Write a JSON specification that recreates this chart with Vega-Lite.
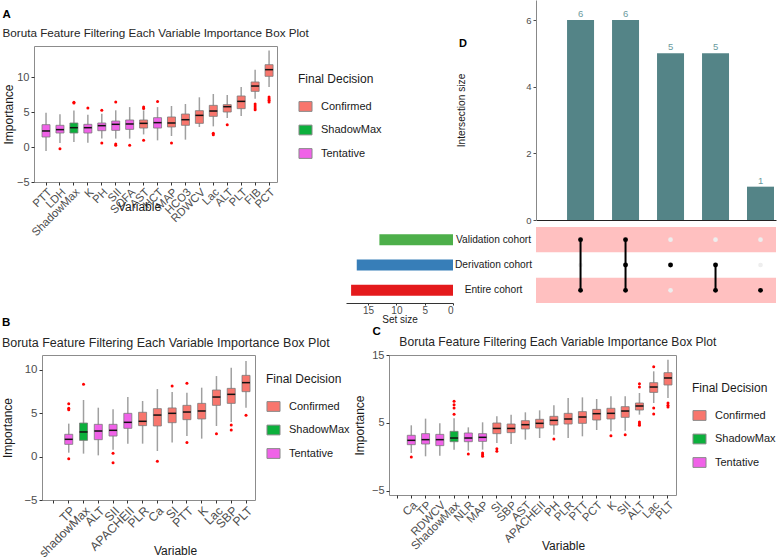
{
 "$schema": "https://vega.github.io/schema/vega-lite/v6.json",
 "padding": {"left": 1, "top": 0, "right": 0, "bottom": 0},
 "config": {
  "font": "Liberation Sans",
  "view": {"stroke": "#8c8c8c", "strokeWidth": 1},
  "axis": {"grid": false, "domain": false, "tickColor": "#333333", "tickSize": 3, "labelColor": "#4d4d4d", "titleColor": "#1a1a1a", "titleFontWeight": "normal", "titleFontSize": 12, "labelFontSize": 11, "labelPadding": 2},
  "legend": {"titleFontSize": 12, "titleFontWeight": "normal", "titleColor": "#1a1a1a", "labelFontSize": 11, "labelColor": "#1a1a1a", "symbolType": "M-1,-0.75H1V0.75H-1Z", "symbolSize": 170, "symbolStrokeColor": "#8a8a8a", "symbolStrokeWidth": 1, "rowPadding": 8.5, "titlePadding": 13, "labelOffset": 8},
  "title": {"anchor": "start", "fontSize": 11.5, "fontWeight": "bold", "color": "#000000", "subtitleColor": "#262626", "subtitleFontSize": 12}
 },
 "datasets": {
  "boxA": [
   {"v":"PTT","d":"Tentative","lo":-0.57,"q1":1.43,"med":2.29,"q3":3.19,"hi":4.9},
   {"v":"LDH","d":"Tentative","lo":0.57,"q1":2.0,"med":2.48,"q3":3.1,"hi":4.67},
   {"v":"ShadowMax","d":"ShadowMax","lo":0.7,"q1":2.0,"med":2.76,"q3":3.43,"hi":5.2},
   {"v":"K","d":"Tentative","lo":0.6,"q1":2.0,"med":2.76,"q3":3.24,"hi":4.6},
   {"v":"PH","d":"Tentative","lo":1.2,"q1":2.33,"med":3.05,"q3":3.43,"hi":4.76},
   {"v":"SII","d":"Tentative","lo":1.2,"q1":2.38,"med":3.24,"q3":3.71,"hi":5.24},
   {"v":"SOFA","d":"Tentative","lo":1.2,"q1":2.52,"med":3.29,"q3":3.86,"hi":5.7},
   {"v":"AST","d":"Confirmed","lo":1.8,"q1":2.71,"med":3.38,"q3":3.86,"hi":5.24},
   {"v":"HCT","d":"Tentative","lo":0.95,"q1":2.71,"med":3.48,"q3":4.19,"hi":5.7},
   {"v":"MAP","d":"Confirmed","lo":1.57,"q1":2.86,"med":3.43,"q3":4.29,"hi":5.86},
   {"v":"HCO3","d":"Confirmed","lo":1.05,"q1":3.1,"med":3.9,"q3":4.71,"hi":6.14},
   {"v":"RDWCV","d":"Confirmed","lo":2.86,"q1":3.38,"med":4.52,"q3":5.19,"hi":7.1},
   {"v":"Lac","d":"Confirmed","lo":2.95,"q1":4.38,"med":5.14,"q3":5.95,"hi":7.57},
   {"v":"ALT","d":"Confirmed","lo":4.14,"q1":5.0,"med":5.76,"q3":6.05,"hi":7.43},
   {"v":"PLT","d":"Confirmed","lo":4.43,"q1":5.48,"med":6.52,"q3":7.29,"hi":8.57},
   {"v":"FIB","d":"Confirmed","lo":6.9,"q1":7.95,"med":8.71,"q3":9.29,"hi":11.05},
   {"v":"PCT","d":"Confirmed","lo":8.57,"q1":10.1,"med":11.05,"q3":11.76,"hi":13.8}
  ],
  "outA": [
   {"v":"LDH","value":-0.24},{"v":"ShadowMax","value":6.4},{"v":"ShadowMax","value":6.3},{"v":"K","value":5.57},
   {"v":"PH","value":5.24},{"v":"PH","value":0.57},{"v":"SII","value":6.43},{"v":"SII","value":0.43},{"v":"SII","value":0.24},
   {"v":"SOFA","value":0.24},{"v":"AST","value":5.7},{"v":"AST","value":5.5},{"v":"AST","value":0.95},{"v":"HCT","value":6.5},
   {"v":"MAP","value":0.57},{"v":"Lac","value":1.95},{"v":"Lac","value":1.76},{"v":"ALT","value":3.19},
   {"v":"FIB","value":6.14},{"v":"FIB","value":5.86},{"v":"FIB","value":5.57},{"v":"FIB","value":5.33},
   {"v":"PCT","value":7.14},{"v":"PCT","value":6.9},{"v":"PCT","value":6.67},{"v":"PCT","value":6.43}
  ],
  "boxB": [
   {"v":"TP","d":"Tentative","lo":0.46,"q1":1.42,"med":2.0,"q3":2.58,"hi":3.81},
   {"v":"shadowMax","d":"ShadowMax","lo":0.35,"q1":1.88,"med":2.85,"q3":3.88,"hi":6.54},
   {"v":"ALT","d":"Tentative","lo":0.15,"q1":1.96,"med":2.96,"q3":3.73,"hi":5.65},
   {"v":"SII","d":"Tentative","lo":0.8,"q1":2.38,"med":3.04,"q3":3.73,"hi":5.46},
   {"v":"APACHEII","d":"Tentative","lo":1.5,"q1":3.27,"med":3.96,"q3":5.0,"hi":6.88},
   {"v":"PLR","d":"Confirmed","lo":1.5,"q1":3.58,"med":4.08,"q3":5.12,"hi":6.42},
   {"v":"Ca","d":"Confirmed","lo":0.65,"q1":3.54,"med":4.8,"q3":5.54,"hi":7.8},
   {"v":"SI","d":"Confirmed","lo":1.62,"q1":3.92,"med":5.0,"q3":5.62,"hi":7.46},
   {"v":"PTT","d":"Confirmed","lo":2.38,"q1":4.27,"med":5.15,"q3":5.92,"hi":7.38},
   {"v":"K","d":"Confirmed","lo":2.08,"q1":4.35,"med":5.27,"q3":6.15,"hi":7.96},
   {"v":"Lac","d":"Confirmed","lo":3.54,"q1":5.92,"med":6.88,"q3":7.69,"hi":9.3},
   {"v":"SBP","d":"Confirmed","lo":4.0,"q1":6.15,"med":7.19,"q3":7.88,"hi":10.27},
   {"v":"PLT","d":"Confirmed","lo":5.65,"q1":7.5,"med":8.54,"q3":9.38,"hi":11.04}
  ],
  "outB": [
   {"v":"TP","value":6.1},{"v":"TP","value":5.6},{"v":"TP","value":5.4},{"v":"TP","value":-0.23},
   {"v":"shadowMax","value":8.35},{"v":"SII","value":0.38},{"v":"SII","value":-0.69},{"v":"Ca","value":-0.54},
   {"v":"SI","value":8.15},{"v":"PTT","value":8.46},{"v":"PTT","value":1.62},{"v":"Lac","value":2.65},
   {"v":"SBP","value":3.65},{"v":"SBP","value":3.08},{"v":"PLT","value":4.77}
  ],
  "boxC": [
   {"v":"Ca","d":"Tentative","lo":0.59,"q1":1.81,"med":2.45,"q3":3.19,"hi":4.66},
   {"v":"TP","d":"Tentative","lo":0.1,"q1":1.91,"med":2.55,"q3":3.43,"hi":5.64},
   {"v":"RDWCV","d":"Tentative","lo":0.2,"q1":1.67,"med":2.55,"q3":3.33,"hi":4.95},
   {"v":"ShadowMax","d":"ShadowMax","lo":1.08,"q1":2.25,"med":2.79,"q3":3.77,"hi":5.7},
   {"v":"NLR","d":"Tentative","lo":0.93,"q1":2.25,"med":2.79,"q3":3.53,"hi":4.36},
   {"v":"MAP","d":"Tentative","lo":1.08,"q1":2.3,"med":2.89,"q3":3.43,"hi":5.1},
   {"v":"SI","d":"Confirmed","lo":2.06,"q1":3.43,"med":4.2,"q3":5.0,"hi":5.98},
   {"v":"SBP","d":"Confirmed","lo":1.91,"q1":3.58,"med":4.2,"q3":4.85,"hi":6.2},
   {"v":"AST","d":"Confirmed","lo":2.55,"q1":4.12,"med":4.75,"q3":5.34,"hi":6.57},
   {"v":"APACHEII","d":"Confirmed","lo":2.79,"q1":4.26,"med":4.95,"q3":5.54,"hi":6.86},
   {"v":"PH","d":"Confirmed","lo":3.28,"q1":4.7,"med":5.39,"q3":5.98,"hi":7.6},
   {"v":"PLR","d":"Confirmed","lo":2.79,"q1":4.85,"med":5.59,"q3":6.42,"hi":8.68},
   {"v":"PTT","d":"Confirmed","lo":3.04,"q1":4.95,"med":5.88,"q3":6.67,"hi":8.77},
   {"v":"PCT","d":"Confirmed","lo":3.97,"q1":5.44,"med":6.37,"q3":7.0,"hi":8.53},
   {"v":"K","d":"Confirmed","lo":3.77,"q1":5.59,"med":6.42,"q3":7.16,"hi":8.92},
   {"v":"SII","d":"Confirmed","lo":3.87,"q1":5.83,"med":6.76,"q3":7.4,"hi":8.92},
   {"v":"ALT","d":"Confirmed","lo":6.23,"q1":6.91,"med":7.5,"q3":7.94,"hi":9.41},
   {"v":"Lac","d":"Confirmed","lo":7.94,"q1":9.5,"med":10.29,"q3":10.93,"hi":12.6},
   {"v":"PLT","d":"Confirmed","lo":8.68,"q1":10.59,"med":11.62,"q3":12.4,"hi":14.3}
  ],
  "outC": [
   {"v":"Ca","value":0.0},{"v":"ShadowMax","value":8.2},{"v":"ShadowMax","value":7.7},{"v":"ShadowMax","value":7.2},{"v":"ShadowMax","value":6.3},
   {"v":"NLR","value":0.44},{"v":"MAP","value":0.59},{"v":"MAP","value":0.34},{"v":"MAP","value":0.1},
   {"v":"SI","value":1.23},{"v":"SI","value":0.83},{"v":"PH","value":2.65},{"v":"K","value":3.14},{"v":"SII","value":3.28},
   {"v":"ALT","value":10.78},{"v":"ALT","value":10.29},{"v":"ALT","value":5.15},{"v":"ALT","value":4.9},{"v":"ALT","value":4.66},
   {"v":"Lac","value":13.28},{"v":"Lac","value":7.2},{"v":"Lac","value":6.32},
   {"v":"PLT","value":7.94},{"v":"PLT","value":7.6},{"v":"PLT","value":7.35}
  ],
  "inter": [{"id":"1","size":6},{"id":"2","size":6},{"id":"3","size":5},{"id":"4","size":5},{"id":"5","size":1}],
  "sets": [{"set":"Validation cohort","size":13},{"set":"Derivation cohort","size":17},{"set":"Entire cohort","size":18}],
  "shade": [{"set":"Validation cohort"},{"set":"Entire cohort"}],
  "member": [
   {"id":"1","set":"Validation cohort","m":"yes"},{"id":"1","set":"Derivation cohort","m":"no"},{"id":"1","set":"Entire cohort","m":"yes"},
   {"id":"2","set":"Validation cohort","m":"yes"},{"id":"2","set":"Derivation cohort","m":"yes"},{"id":"2","set":"Entire cohort","m":"yes"},
   {"id":"3","set":"Validation cohort","m":"no"},{"id":"3","set":"Derivation cohort","m":"yes"},{"id":"3","set":"Entire cohort","m":"no"},
   {"id":"4","set":"Validation cohort","m":"no"},{"id":"4","set":"Derivation cohort","m":"yes"},{"id":"4","set":"Entire cohort","m":"yes"},
   {"id":"5","set":"Validation cohort","m":"no"},{"id":"5","set":"Derivation cohort","m":"no"},{"id":"5","set":"Entire cohort","m":"yes"}
  ],
  "links": [
   {"id":"1","from":"Validation cohort","to":"Entire cohort"},
   {"id":"2","from":"Validation cohort","to":"Entire cohort"},
   {"id":"4","from":"Derivation cohort","to":"Entire cohort"}
  ],
  "empty": [],
  "dlabel": [{"t":"D"}]
 },
 "columns": 1,
 "align": "none",
 "spacing": -8,
 "resolve": {"scale": {"color": "independent"}, "legend": {"color": "independent"}},
 "concat": [
  {
   "columns": 2, "align": "none", "spacing": -37,
   "resolve": {"scale": {"color": "independent"}, "legend": {"color": "independent"}},
   "concat": [
    {
     "columns": 1, "align": "each", "spacing": 0,
     "resolve": {"scale": {"color": "independent"}, "legend": {"color": "independent"}},
     "concat": [
      {"width": 1, "height": 8, "view": {"stroke": null}, "data": {"name": "empty"}, "mark": {"type": "text"}, "encoding": {"text": {"field": "t"}}},
      {
       "width": 243, "height": 136,
       "title": {"text": "A", "subtitle": "Boruta Feature Filtering Each Variable Importance Box Plot", "subtitleFontSize": 11.7, "subtitlePadding": 8, "offset": 6},
       "encoding": {"x": {"field": "v", "type": "nominal", "title": "Variable", "scale": {"domain": ["PTT","LDH","ShadowMax","K","PH","SII","SOFA","AST","HCT","MAP","HCO3","RDWCV","Lac","ALT","PLT","FIB","PCT"], "paddingInner": 0, "paddingOuter": 0.216, "align": 0.84}, "axis": {"labelAngle": -45, "labelAlign": "right", "labelBaseline": "top", "labelFontSize": 11.3, "labelPadding": 1, "titleY": 19, "titleX": 105}}},
       "layer": [
        {"data": {"name": "boxA"}, "mark": {"type": "rule", "color": "#a0a0a0", "strokeWidth": 1.5},
         "encoding": {"y": {"field": "lo", "type": "quantitative", "title": "Importance", "scale": {"domain": [-5, 14.43], "nice": false, "zero": false}, "axis": {"values": [-5, 0, 5, 10], "titlePadding": 1}}, "y2": {"field": "hi"}}},
        {"data": {"name": "boxA"}, "mark": {"type": "bar", "size": 8, "stroke": "#7a7a7a", "strokeWidth": 0.8},
         "encoding": {"y": {"field": "q1", "type": "quantitative", "title": "Importance"}, "y2": {"field": "q3"},
          "color": {"field": "d", "type": "nominal", "scale": {"domain": ["Confirmed","ShadowMax","Tentative"], "range": ["#F8766D","#0CB03C","#F062E8"]}, "legend": {"title": "Final Decision", "orient": "none", "legendX": 264, "legendY": 28}}}},
        {"data": {"name": "boxA"}, "mark": {"type": "tick", "color": "#111111", "thickness": 1.5, "size": 8, "opacity": 1},
         "encoding": {"y": {"field": "med", "type": "quantitative", "title": "Importance"}}},
        {"data": {"name": "outA"}, "mark": {"type": "circle", "color": "#ff0000", "size": 9, "opacity": 1},
         "encoding": {"y": {"field": "value", "type": "quantitative", "title": "Importance"}}}
       ]
      }
     ]
    },
    {
     "columns": 2, "align": "each", "spacing": {"row": 2, "column": 0},
     "resolve": {"scale": {"color": "independent"}, "legend": {"color": "independent"}},
     "concat": [
      {"width": 107, "height": 220, "view": {"stroke": null}, "data": {"name": "empty"}, "mark": {"type": "text"}, "encoding": {"text": {"field": "t"}}},
      {
       "width": 240, "height": 220, "view": {"stroke": null},
       "layer": [
        {"data": {"name": "inter"}, "mark": {"type": "bar", "color": "#548487"},
         "encoding": {
          "x": {"field": "id", "type": "nominal", "scale": {"domain": ["1","2","3","4","5"], "paddingInner": 0.4, "paddingOuter": 0.367, "align": 0.94}, "axis": {"labels": false, "ticks": false, "title": null, "domain": true, "domainColor": "#222222", "domainWidth": 1}},
          "y": {"field": "size", "type": "quantitative", "scale": {"domain": [0, 6.6], "nice": false}, "axis": {"values": [0, 2, 4, 6], "title": "Intersection size", "titleFontSize": 10.2, "titlePadding": 59, "labelFontSize": 9.5, "tickColor": "#4d4d4d", "domain": true, "domainColor": "#888888"}}}},
        {"data": {"name": "inter"}, "mark": {"type": "text", "dy": -6, "fontSize": 9.5, "color": "#6A9A9D"},
         "encoding": {"x": {"field": "id", "type": "nominal"}, "y": {"field": "size", "type": "quantitative"}, "text": {"field": "size", "type": "quantitative"}}},
        {"data": {"name": "dlabel"}, "mark": {"type": "text", "fontSize": 11, "fontWeight": "bold", "color": "#000000", "dx": -193, "dy": -66, "align": "center", "baseline": "middle"},
         "encoding": {"text": {"field": "t"}}}
       ]
      },
      {
       "width": 107, "height": 76, "view": {"stroke": null},
       "data": {"name": "sets"},
       "mark": {"type": "bar", "size": 11},
       "encoding": {
        "y": {"field": "set", "type": "nominal", "scale": {"domain": ["Validation cohort","Derivation cohort","Entire cohort"], "paddingInner": 0, "paddingOuter": 0}, "axis": null},
        "x": {"field": "size", "type": "quantitative", "scale": {"domain": [0, 18.9], "reverse": true, "nice": false}, "axis": {"values": [0, 5, 10, 15], "title": "Set size", "titleFontSize": 10, "labelFontSize": 10, "labelAngle": 0, "labelPadding": 0, "tickSize": 2, "domain": true, "domainColor": "#333333", "titlePadding": -1}},
        "color": {"field": "set", "type": "nominal", "scale": {"domain": ["Validation cohort","Derivation cohort","Entire cohort"], "range": ["#4DAF4A","#377EB8","#E41A1C"]}, "legend": null}
       }
      },
      {
       "width": 240, "height": 76, "view": {"stroke": null},
       "layer": [
        {"data": {"name": "shade"}, "mark": {"type": "rect", "color": "#FFC0C0"},
         "encoding": {"y": {"field": "set", "type": "nominal", "scale": {"domain": ["Validation cohort","Derivation cohort","Entire cohort"], "paddingInner": 0, "paddingOuter": 0}, "axis": {"title": null, "ticks": false, "tickSize": 0, "domain": false, "labelAlign": "center", "labelPadding": 43, "labelFontSize": 10.2, "labelColor": "#1a1a1a", "labelAngle": 0}}}},
        {"data": {"name": "member"}, "transform": [{"filter": "datum.m === 'no'"}], "mark": {"type": "circle", "size": 22, "opacity": 1, "color": "#EEEEEE"},
         "encoding": {"x": {"field": "id", "type": "nominal", "scale": {"domain": ["1","2","3","4","5"], "paddingInner": 0.4, "paddingOuter": 0.367, "align": 0.94}, "axis": null}, "y": {"field": "set", "type": "nominal"}}},
        {"data": {"name": "links"}, "mark": {"type": "rule", "color": "#000000", "strokeWidth": 2},
         "encoding": {"x": {"field": "id", "type": "nominal"}, "y": {"field": "from", "type": "nominal"}, "y2": {"field": "to"}}},
        {"data": {"name": "member"}, "transform": [{"filter": "datum.m === 'yes'"}], "mark": {"type": "circle", "size": 24, "opacity": 1, "color": "#000000"},
         "encoding": {"x": {"field": "id", "type": "nominal"}, "y": {"field": "set", "type": "nominal"}}}
       ]
      }
     ]
    }
   ]
  },
  {
   "columns": 2, "align": "each", "spacing": 1,
   "resolve": {"scale": {"color": "independent"}, "legend": {"color": "independent"}},
   "concat": [
    {
     "columns": 2, "align": "none", "spacing": -34,
     "resolve": {"scale": {"color": "independent"}, "legend": {"color": "independent"}},
     "concat": [
      {"width": 1, "height": 1, "view": {"stroke": null}, "data": {"name": "empty"}, "mark": {"type": "text"}, "encoding": {"text": {"field": "t"}}},
      {
       "width": 213, "height": 145,
       "title": {"text": "B", "subtitle": "Boruta Feature Filtering Each Variable Importance Box Plot", "subtitleFontSize": 12.5, "subtitlePadding": 8, "offset": 6},
       "encoding": {"x": {"field": "v", "type": "nominal", "title": "Variable", "scale": {"domain": [" ","TP","shadowMax","ALT","SII","APACHEII","PLR","Ca","SI","PTT","K","Lac","SBP","PLT"], "paddingInner": 0, "paddingOuter": 0.21, "align": 0.74}, "axis": {"labelAngle": -45, "labelAlign": "right", "labelBaseline": "top", "labelFontSize": 12.3, "labelPadding": 1, "titleY": 45, "titleX": 133}}},
       "layer": [
        {"data": {"name": "boxB"}, "mark": {"type": "rule", "color": "#a0a0a0", "strokeWidth": 1.5},
         "encoding": {"y": {"field": "lo", "type": "quantitative", "title": "Importance", "scale": {"domain": [-5, 11.73], "nice": false, "zero": false}, "axis": {"values": [-5, 0, 5, 10], "titlePadding": 9, "labelFontSize": 11.5}}, "y2": {"field": "hi"}}},
        {"data": {"name": "boxB"}, "mark": {"type": "bar", "size": 8, "stroke": "#7a7a7a", "strokeWidth": 0.8},
         "encoding": {"y": {"field": "q1", "type": "quantitative", "title": "Importance"}, "y2": {"field": "q3"},
          "color": {"field": "d", "type": "nominal", "scale": {"domain": ["Confirmed","ShadowMax","Tentative"], "range": ["#F8766D","#0CB03C","#F062E8"]}, "legend": {"title": "Final Decision", "orient": "none", "legendX": 224, "legendY": 19}}}},
        {"data": {"name": "boxB"}, "mark": {"type": "tick", "color": "#111111", "thickness": 1.5, "size": 8, "opacity": 1},
         "encoding": {"y": {"field": "med", "type": "quantitative", "title": "Importance"}}},
        {"data": {"name": "outB"}, "mark": {"type": "circle", "color": "#ff0000", "size": 9, "opacity": 1},
         "encoding": {"y": {"field": "value", "type": "quantitative", "title": "Importance"}}}
       ]
      }
     ]
    },
    {
     "width": 287, "height": 140,
     "title": {"text": "C", "subtitle": "\u200b\u00a0\u00a0\u00a0\u00a0\u00a0\u00a0\u00a0\u00a0Boruta Feature Filtering Each Variable Importance Box Plot", "subtitleFontSize": 12.1, "subtitlePadding": -2, "offset": 1, "dx": 19},
     "encoding": {"x": {"field": "v", "type": "nominal", "title": "Variable", "scale": {"domain": [" ","Ca","TP","RDWCV","ShadowMax","NLR","MAP","SI","SBP","AST","APACHEII","PH","PLR","PTT","PCT","K","SII","ALT","Lac","PLT"], "paddingInner": 0, "paddingOuter": 0.063, "align": 0.5}, "axis": {"labelAngle": -45, "labelAlign": "right", "labelBaseline": "top", "labelFontSize": 11.5, "labelPadding": 1, "titleY": 45, "titleX": 174}}},
     "layer": [
      {"data": {"name": "boxC"}, "mark": {"type": "rule", "color": "#a0a0a0", "strokeWidth": 1.5},
       "encoding": {"y": {"field": "lo", "type": "quantitative", "title": "Importance", "scale": {"domain": [-5.59, 15.0], "nice": false, "zero": false}, "axis": {"values": [-5, 0, 5, 10, 15], "titlePadding": 5}}, "y2": {"field": "hi"}}},
      {"data": {"name": "boxC"}, "mark": {"type": "bar", "size": 8, "stroke": "#7a7a7a", "strokeWidth": 0.8},
       "encoding": {"y": {"field": "q1", "type": "quantitative", "title": "Importance"}, "y2": {"field": "q3"},
        "color": {"field": "d", "type": "nominal", "scale": {"domain": ["Confirmed","ShadowMax","Tentative"], "range": ["#F8766D","#0CB03C","#F062E8"]}, "legend": {"title": "Final Decision", "orient": "none", "legendX": 303, "legendY": 28}}}},
      {"data": {"name": "boxC"}, "mark": {"type": "tick", "color": "#111111", "thickness": 1.5, "size": 8, "opacity": 1},
       "encoding": {"y": {"field": "med", "type": "quantitative", "title": "Importance"}}},
      {"data": {"name": "outC"}, "mark": {"type": "circle", "color": "#ff0000", "size": 9, "opacity": 1},
       "encoding": {"y": {"field": "value", "type": "quantitative", "title": "Importance"}}}
     ]
    }
   ]
  }
 ]
}
